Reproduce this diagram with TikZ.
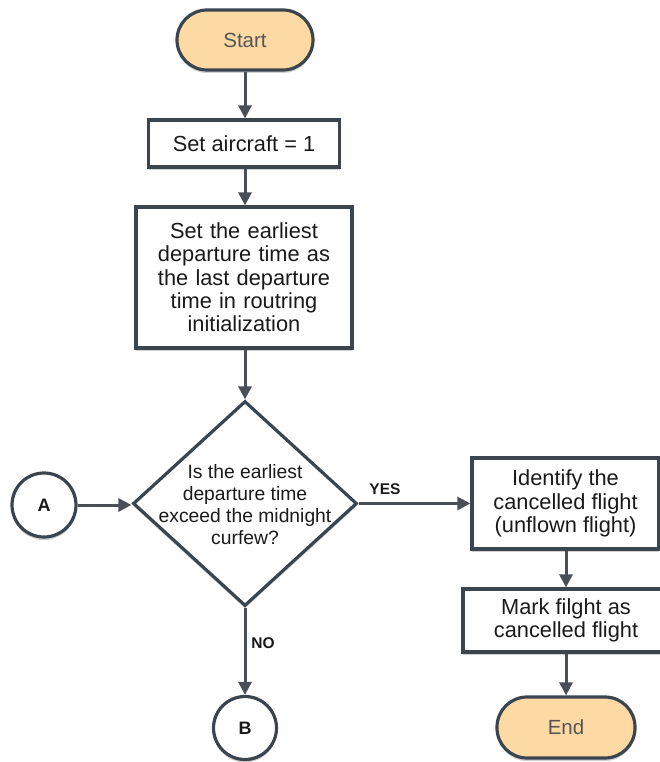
\documentclass[tikz,border=0pt]{standalone}
\usepackage{fontspec}
\setmainfont{Liberation Sans}
\usetikzlibrary{arrows.meta,shapes.geometric,shadows}
\definecolor{edge}{HTML}{3B4550}
\definecolor{wire}{HTML}{4A4F55}
\definecolor{term}{HTML}{FDD9A4}
\definecolor{termtext}{HTML}{555555}
\definecolor{ink}{HTML}{1A1A1A}
\tikzset{
  x=1pt, y=-1pt,
  shade/.style={drop shadow={shadow xshift=0pt, shadow yshift=-3pt, opacity=0.18, fill=black}},
  terminal/.style={draw=edge, line width=3.2pt, fill=term, rounded corners=30pt,
    text=termtext, font=\fontsize{20.5}{22}\selectfont, inner sep=0pt, shade},
  procbox/.style={draw=edge, line width=3.2pt, fill=white, text=ink, align=center,
    font=\fontsize{21.8}{23.3}\selectfont, inner sep=0pt, shade},
  connector/.style={draw=edge, line width=3.2pt, fill=white, circle, text=ink,
    font=\bfseries\fontsize{18}{20}\selectfont, inner sep=0pt, shade},
  flow/.style={draw=wire, line width=3pt, -{Triangle[length=13pt,width=13pt]}},
  tag/.style={text=ink, font=\bfseries\fontsize{15.5}{17}\selectfont, inner sep=0pt}
}
\begin{document}
\begin{tikzpicture}
\useasboundingbox (0,0) rectangle (660,762);

% terminals
\node[terminal, minimum width=136pt, minimum height=60pt] (start) at (245,40) {Start};
\node[terminal, minimum width=138pt, minimum height=61pt] (stop) at (566,727.5) {End};

% process steps
\node[procbox, minimum width=191pt, minimum height=47pt] (init) at (244,143.5) {Set aircraft = 1};
\node[procbox, minimum width=216pt, minimum height=141pt, text width=205pt] (edt) at (244,277.5)
  {Set the earliest\\departure time as\\the last departure\\time in routring\\initialization};

% decision
\node[draw=edge, line width=3.2pt, fill=white, diamond, minimum width=224pt, minimum height=205pt,
  inner sep=0pt, shade] (check) at (245,503.5) {};
\node[text=ink, align=center, font=\fontsize{19.3}{22}\selectfont, inner sep=0pt] (checktext) at (245,505)
  {Is the earliest\\departure time\\exceed the midnight\\curfew?};

\node[procbox, minimum width=187pt, minimum height=91pt] (ident) at (565.5,503.5)
  {Identify the\\cancelled flight\\(unflown flight)};
\node[procbox, minimum width=206pt, minimum height=63pt] (mark) at (566,620.5)
  {Mark filght as\\cancelled flight};

% off-page connectors
\node[connector, minimum size=64pt] (A) at (44,505) {A};
\node[connector, minimum size=63pt] (B) at (245,728) {B};

% connectors
\draw[flow] (start.south) -- (start.south |- init.north);
\draw[flow] (init.south -| start.south) -- (start.south |- edt.north);
\draw[flow] (edt.south -| start.south) -- (check.north);
\draw[flow] (A.east) -- (A.east -| check.west);
\draw[flow] (check.east) -- (check.east -| ident.west);
\draw[flow] (check.south) -- (B.north);
\draw[flow] (ident.south -| stop.north) -- (stop.north |- mark.north);
\draw[flow] (mark.south -| stop.north) -- (stop.north);

% branch labels
\node[tag] (yes) at (385,489) {YES};
\node[tag] (no) at (263,643) {NO};
\end{tikzpicture}
\end{document}
